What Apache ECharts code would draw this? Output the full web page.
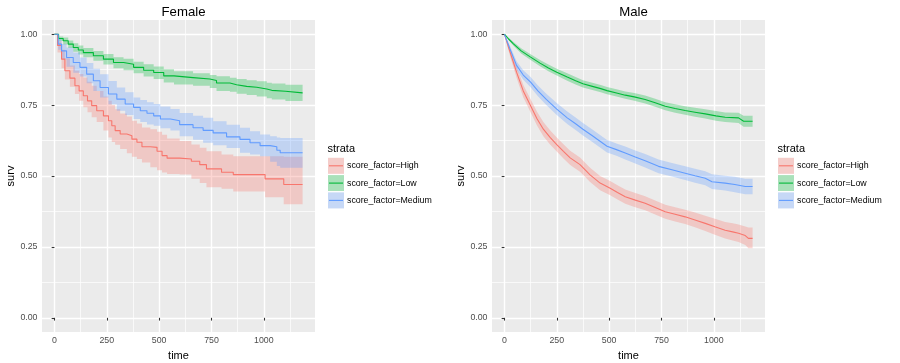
<!DOCTYPE html>
<html><head><meta charset="utf-8">
<script src="https://cdn.jsdelivr.net/npm/echarts@6/dist/echarts.min.js"></script>
<style>html,body{margin:0;padding:0;background:#fff}#c{width:900px;height:363px}</style>
</head><body><div id="c"></div>
<script>
const panelTitles = ['Female', 'Male'];
const legendTitle = 'strata';
const strataLabels = ['score_factor=High', 'score_factor=Low', 'score_factor=Medium'];
const xTicks = [0, 250, 500, 750, 1000];
const xMinor = [125, 375, 625, 875, 1125];
const yTicks = [0, 0.25, 0.5, 0.75, 1];
const yMinor = [0.125, 0.375, 0.625, 0.875];
const xName = 'time';
const yName = 'surv';

// ---- Female ----
const fHighTime = [0, 15, 34, 50, 74, 98, 118, 138, 158, 178, 202, 234, 258, 274, 290, 314, 346, 370, 394, 418, 458, 490, 514, 538, 598, 654, 694, 726, 798, 854, 1006, 1095, 1185];
const fHighSurv = [1, .96, .912, .871, .845, .818, .80, .783, .765, .748, .730, .712, .695, .677, .660, .648, .642, .630, .619, .603, .601, .587, .572, .563, .560, .552, .540, .525, .513, .505, .490, .470, .470];
const fHighUp   = [1, .975, .945, .915, .89, .871, .86, .847, .832, .818, .80, .78, .765, .75, .735, .72, .71, .695, .685, .671, .665, .656, .645, .632, .623, .611, .60, .587, .576, .570, .570, .568, .568];
const fHighLo   = [1, .935, .88, .84, .815, .789, .765, .742, .725, .707, .69, .66, .636, .62, .61, .595, .58, .568, .56, .548, .531, .52, .512, .507, .505, .49, .475, .46, .455, .445, .425, .40, .40];

const fLowTime = [0, 20, 42, 66, 90, 114, 138, 186, 234, 282, 330, 378, 426, 474, 522, 571, 662, 742, 774, 838, 870, 918, 966, 1014, 1038, 1103, 1185];
const fLowSurv = [1, .985, .977, .965, .953, .944, .935, .924, .912, .900, .894, .883, .873, .865, .853, .847, .842, .837, .828, .822, .816, .813, .807, .802, .799, .793, .793];
const fLowUp   = [1, .992, .988, .978, .968, .96, .951, .941, .930, .919, .913, .903, .894, .886, .876, .869, .862, .856, .852, .846, .842, .838, .834, .829, .826, .822, .822];
const fLowLo   = [1, .977, .964, .951, .938, .928, .919, .906, .893, .880, .873, .862, .851, .842, .830, .823, .818, .810, .80, .797, .79, .786, .78, .774, .77, .764, .764];

const fMedTime = [0, 18, 34, 58, 90, 122, 154, 186, 218, 258, 298, 338, 378, 410, 442, 474, 506, 554, 598, 662, 710, 758, 822, 886, 934, 982, 1030, 1062, 1078, 1185];
const fMedSurv = [1, .965, .941, .918, .900, .883, .859, .836, .812, .789, .771, .754, .742, .730, .721, .712, .701, .695, .681, .670, .661, .652, .638, .629, .617, .607, .603, .591, .582, .582];
const fMedUp   = [1, .982, .965, .953, .935, .918, .898, .878, .859, .835, .812, .795, .777, .768, .760, .754, .745, .736, .722, .712, .705, .693, .681, .670, .658, .646, .640, .636, .634, .634];
const fMedLo   = [1, .945, .912, .885, .864, .851, .827, .80, .777, .753, .730, .715, .701, .690, .682, .677, .668, .660, .640, .628, .617, .608, .599, .582, .576, .570, .55, .535, .529, .529];

// ---- Male ----
const mHighTime = [0, 15, 30, 58, 90, 125, 155, 186, 218, 250, 282, 314, 361, 409, 457, 505, 540, 577, 625, 672, 720, 768, 815, 863, 910, 959, 1005, 1054, 1090, 1118, 1150, 1165, 1185];
const mHighSurv = [1, .965, .93, .866, .80, .748, .703, .665, .636, .611, .587, .564, .540, .504, .475, .457, .442, .427, .415, .404, .389, .374, .365, .356, .345, .333, .321, .309, .303, .298, .290, .280, .280];
const mHighUp   = [1, .975, .945, .886, .822, .771, .727, .690, .661, .636, .612, .589, .565, .529, .50, .482, .467, .452, .440, .429, .414, .399, .39, .381, .371, .36, .349, .338, .333, .329, .322, .318, .318];
const mHighLo   = [1, .955, .915, .846, .778, .725, .679, .640, .611, .586, .562, .539, .515, .479, .45, .432, .417, .402, .39, .379, .364, .349, .34, .331, .319, .306, .293, .28, .273, .267, .257, .245, .245];

const mLowTime = [0, 20, 42, 80, 125, 170, 210, 250, 300, 340, 375, 420, 460, 490, 540, 577, 620, 672, 720, 768, 815, 863, 910, 959, 1010, 1054, 1118, 1142, 1185];
const mLowSurv = [1, .983, .967, .941, .919, .898, .881, .866, .849, .836, .825, .816, .808, .801, .792, .785, .779, .770, .758, .746, .738, .731, .725, .719, .712, .707, .705, .693, .693];
const mLowUp   = [1, .987, .973, .95, .929, .909, .893, .878, .862, .849, .838, .829, .821, .814, .805, .798, .793, .784, .772, .760, .753, .746, .741, .735, .729, .724, .723, .712, .712];
const mLowLo   = [1, .979, .960, .932, .909, .887, .869, .854, .836, .823, .812, .803, .795, .788, .779, .772, .765, .756, .744, .732, .723, .716, .709, .703, .695, .690, .687, .674, .674];

const mMedTime = [0, 26, 58, 90, 125, 160, 200, 250, 300, 340, 375, 420, 460, 490, 535, 577, 625, 672, 736, 800, 863, 910, 959, 991, 1054, 1100, 1150, 1185];
const mMedSurv = [1, .949, .89, .856, .831, .80, .77, .736, .705, .684, .665, .642, .621, .605, .593, .581, .567, .554, .534, .522, .510, .501, .492, .480, .475, .470, .463, .463];
const mMedUp   = [1, .96, .905, .873, .849, .819, .79, .757, .727, .706, .687, .664, .643, .627, .615, .604, .590, .578, .558, .546, .534, .526, .517, .506, .501, .497, .49, .49];
const mMedLo   = [1, .938, .875, .839, .813, .781, .75, .715, .683, .662, .643, .620, .599, .583, .571, .558, .544, .530, .510, .498, .486, .476, .467, .454, .449, .443, .436, .436];

const groupColors = ['#F8766D', '#00BA38', '#619CFF'];
const ribbonColors = ['rgba(248,118,109,0.3)', 'rgba(0,186,56,0.3)', 'rgba(97,156,255,0.3)'];

const panelsData = [
  {step: true, groups: [
    {time: fHighTime, surv: fHighSurv, up: fHighUp, lo: fHighLo},
    {time: fLowTime, surv: fLowSurv, up: fLowUp, lo: fLowLo},
    {time: fMedTime, surv: fMedSurv, up: fMedUp, lo: fMedLo}
  ]},
  {step: false, groups: [
    {time: mHighTime, surv: mHighSurv, up: mHighUp, lo: mHighLo},
    {time: mLowTime, surv: mLowSurv, up: mLowUp, lo: mLowLo},
    {time: mMedTime, surv: mMedSurv, up: mMedUp, lo: mMedLo}
  ]}
];

const FONT = '"Liberation Sans", Arial, Helvetica, sans-serif';
const gridLeft = [42, 492];
const gridTop = 20, gridW = 273, gridH = 312;
const xMin = -59.25, xMax = 1244.25, yMin = -0.05, yMax = 1.05;

const grids = [], xAxes = [], yAxes = [], series = [], titles = [], graphics = [];

panelsData.forEach((p, pi) => {
  grids.push({left: gridLeft[pi], top: gridTop, width: gridW, height: gridH, show: true,
    backgroundColor: '#EBEBEB', borderWidth: 0, containLabel: false, outerBoundsMode: 'none'});
  titles.push({text: panelTitles[pi], left: gridLeft[pi] + gridW / 2, top: 1, textAlign: 'center',
    textStyle: {fontFamily: FONT, fontSize: 13.2, fontWeight: 'normal', color: '#000'}});
});
for (let k = 0; k < 2; k++) {
  xAxes.push({type: 'value', gridIndex: k, min: xMin, max: xMax, name: xName, nameLocation: 'middle', nameGap: 15,
    nameTextStyle: {fontFamily: FONT, fontSize: 11, color: '#000'},
    axisLine: {show: false},
    axisTick: {show: true, length: 2.75, customValues: xTicks, lineStyle: {color: '#333333', width: 1.07}},
    axisLabel: {show: true, customValues: xTicks, margin: 4.5, fontFamily: FONT, fontSize: 8.8, color: '#4D4D4D',
      formatter: v => String(v)},
    splitLine: {show: true, lineStyle: {color: '#FFFFFF', width: 1.4}}, z: 1});
  yAxes.push({type: 'value', gridIndex: k, min: yMin, max: yMax, name: yName, nameLocation: 'middle', nameGap: 25,
    nameRotate: 90, nameTextStyle: {fontFamily: FONT, fontSize: 11, color: '#000'},
    axisLine: {show: false},
    axisTick: {show: true, length: 2.75, customValues: yTicks, lineStyle: {color: '#333333', width: 1.07}},
    axisLabel: {show: true, customValues: yTicks, margin: 4.5, fontFamily: FONT, fontSize: 8.8, color: '#4D4D4D',
      formatter: v => Number(v).toFixed(2)},
    splitLine: {show: true, lineStyle: {color: '#FFFFFF', width: 1.4}}, z: 1});
}
for (let k = 0; k < 2; k++) {
  xAxes.push({type: 'value', gridIndex: k, min: xMin, max: xMax, axisLine: {show: false},
    axisTick: {show: true, length: 0, customValues: xMinor, lineStyle: {opacity: 0}},
    axisLabel: {show: false}, splitLine: {show: true, lineStyle: {color: '#FFFFFF', width: 0.7}}, z: 0});
  yAxes.push({type: 'value', gridIndex: k, min: yMin, max: yMax, axisLine: {show: false},
    axisTick: {show: true, length: 0, customValues: yMinor, lineStyle: {opacity: 0}},
    axisLabel: {show: false}, splitLine: {show: true, lineStyle: {color: '#FFFFFF', width: 0.7}}, z: 0});
}

function ribbonRenderer(g, step, color) {
  return function (params, api) {
    if (params.dataIndex !== 0) return null;
    const pts = [];
    const n = g.time.length;
    for (let i = 0; i < n; i++) {
      pts.push(api.coord([g.time[i], g.up[i]]));
      if (step && i < n - 1) pts.push(api.coord([g.time[i + 1], g.up[i]]));
    }
    for (let i = n - 1; i >= 0; i--) {
      if (step && i < n - 1) pts.push(api.coord([g.time[i + 1], g.lo[i]]));
      pts.push(api.coord([g.time[i], g.lo[i]]));
    }
    return {type: 'polygon', shape: {points: pts}, style: {fill: color}};
  };
}

panelsData.forEach((p, pi) => {
  p.groups.forEach((g, gi) => {
    series.push({type: 'custom', name: strataLabels[gi] + ' band', xAxisIndex: pi, yAxisIndex: pi,
      data: g.time.map((t, i) => [t, g.lo[i], g.up[i]]), encode: {x: 0, y: [1, 2]},
      renderItem: ribbonRenderer(g, p.step, ribbonColors[gi]), silent: true, z: 2});
  });
  p.groups.forEach((g, gi) => {
    series.push({type: 'line', name: strataLabels[gi], xAxisIndex: pi, yAxisIndex: pi,
      data: g.time.map((t, i) => [t, g.surv[i]]), step: p.step ? 'end' : false,
      showSymbol: false, symbol: 'none', lineStyle: {color: groupColors[gi], width: 1.1}, silent: true, z: 3});
  });
});

const legendX = [327.5, 777.5];
const keyTop = 157.3, keyStep = 17.3, keySize = 17.0;
legendX.forEach(lx => {
  graphics.push({type: 'text', x: lx, y: 149, style: {text: legendTitle, fontFamily: FONT, fontSize: 11,
    fill: '#000', verticalAlign: 'middle', textAlign: 'left'}});
  strataLabels.forEach((lab, gi) => {
    const ky = keyTop + keyStep * gi;
    graphics.push({type: 'rect', shape: {x: lx, y: ky, width: keySize, height: keySize},
      style: {fill: '#F2F2F2', stroke: '#FFFFFF', lineWidth: 1}});
    graphics.push({type: 'rect', shape: {x: lx + 0.5, y: ky + 0.5, width: keySize - 1, height: keySize - 1},
      style: {fill: ribbonColors[gi]}});
    graphics.push({type: 'line', shape: {x1: lx + 1.5, y1: ky + keySize / 2, x2: lx + keySize - 1.5, y2: ky + keySize / 2},
      style: {stroke: groupColors[gi], lineWidth: 1.1}});
    graphics.push({type: 'text', x: lx + keySize + 2.5, y: ky + keySize / 2, style: {text: lab, fontFamily: FONT,
      fontSize: 8.8, fill: '#000', verticalAlign: 'middle', textAlign: 'left'}});
  });
});

const chart = echarts.init(document.getElementById('c'), null, {renderer: 'canvas'});
chart.setOption({
  animation: false,
  backgroundColor: '#FFFFFF',
  title: titles,
  grid: grids,
  xAxis: xAxes,
  yAxis: yAxes,
  series: series,
  graphic: graphics
});
</script>
</body></html>
